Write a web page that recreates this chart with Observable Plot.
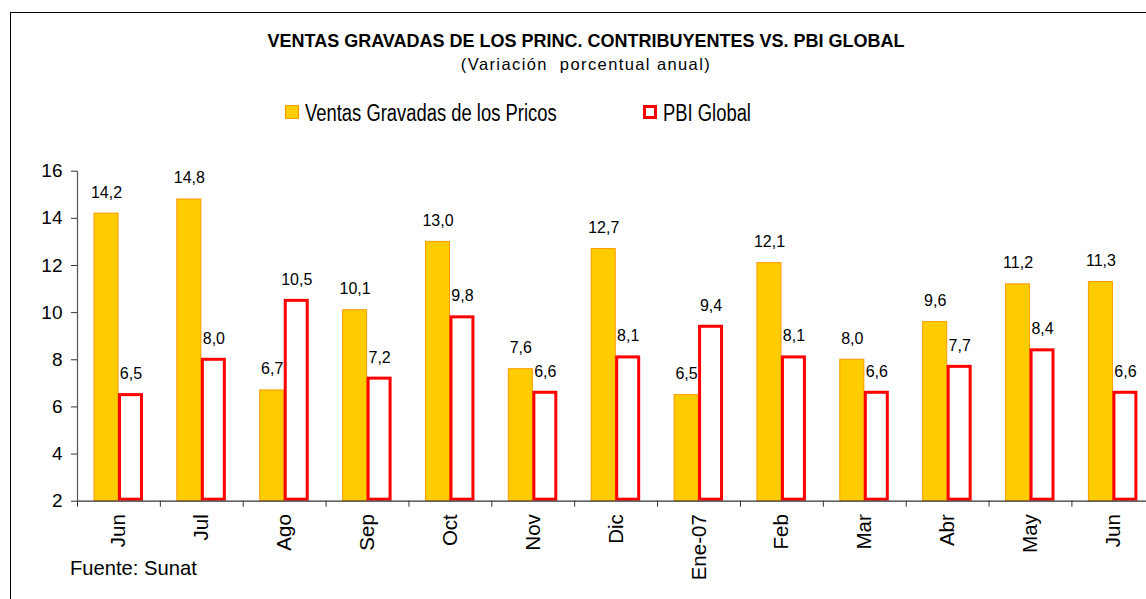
<!DOCTYPE html>
<html>
<head>
<meta charset="utf-8">
<script src="https://cdn.jsdelivr.net/npm/d3@7"></script>
<script src="https://cdn.jsdelivr.net/npm/@observablehq/plot@0.6"></script>
<style>
  html, body { margin: 0; padding: 0; background: #fff; overflow: hidden; width: 1146px; height: 599px; }
  body { position: relative; font-family: "Liberation Sans", Arial, sans-serif; color: #000; }
  #chart { position: absolute; left: 0; top: 0; }
  .txt { position: absolute; white-space: pre; line-height: 1; }
  #frame { position: absolute; left: 9.5px; top: 12px; width: 1300px; height: 800px; border-left: 1.5px solid #000; border-top: 1.5px solid #000; pointer-events: none; }
  .sw { position: absolute; box-sizing: border-box; }
</style>
</head>
<body>
<div id="chart"></div>
<div id="frame"></div>
<div class="txt" id="title" style="left:0; width:1172px; text-align:center; top:32.3px; font-size:18px; font-weight:bold;"></div>
<div class="txt" id="subtitle" style="left:0; width:1172px; text-align:center; top:56px; font-size:16.5px; letter-spacing:1.4px;"></div>
<div id="legend"></div>
<div class="txt" id="source" style="left:70px; top:558px; font-size:20.2px;"></div>
<script>
// ---- data ----
const titleText = "VENTAS GRAVADAS DE LOS PRINC. CONTRIBUYENTES VS. PBI GLOBAL";
const subtitleText = "(Variación  porcentual anual)";
const sourceText = "Fuente: Sunat";
const seriesNames = ["Ventas Gravadas de los Pricos", "PBI Global"];
const months = ["Jun", "Jul", "Ago", "Sep", "Oct", "Nov", "Dic", "Ene-07", "Feb", "Mar", "Abr", "May", "Jun"];
const ventas = [14.2, 14.8, 6.7, 10.1, 13.0, 7.6, 12.7, 6.5, 12.1, 8.0, 9.6, 11.2, 11.3];
const pbi = [6.5, 8.0, 10.5, 7.2, 9.8, 6.6, 8.1, 9.4, 8.1, 6.6, 7.7, 8.4, 6.6];
const yTicks = [2, 4, 6, 8, 10, 12, 14, 16];

// ---- build ----
const data = months.map((m, i) => ({i, month: m, ventas: ventas[i], pbi: pbi[i]}));
const fmt = v => v.toFixed(1).replace(".", ",");
const gold = "#FFCC00", goldStroke = "#FF9900", red = "#FF0000";

document.getElementById("title").textContent = titleText;
document.getElementById("subtitle").textContent = subtitleText;
document.getElementById("source").textContent = sourceText;

// legend
const legend = document.getElementById("legend");
const legendItems = [
  {name: seriesNames[0], x: 285, fill: gold, stroke: goldStroke, sw: 1, size: 14},
  {name: seriesNames[1], x: 643, fill: "#fff", stroke: red, sw: 3, size: 13.5}
];
for (const it of legendItems) {
  const s = document.createElement("div");
  s.className = "sw";
  s.style.cssText = `left:${it.x}px; top:105px; width:${it.size}px; height:${it.size}px; background:${it.fill}; border:${it.sw}px solid ${it.stroke};`;
  legend.appendChild(s);
  const t = document.createElement("div");
  t.className = "txt";
  t.textContent = it.name;
  t.style.cssText = `left:${it.x + 20}px; top:102px; font-size:23px; transform:scaleX(0.8); transform-origin:0 0;`;
  legend.appendChild(t);
}

const plot = Plot.plot({
  width: 1146,
  height: 599,
  marginLeft: 77,
  marginRight: 0,
  marginTop: 170.7,
  marginBottom: 98.3,
  style: {background: "transparent", fontFamily: "'Liberation Sans', Arial, sans-serif", color: "#000", overflow: "visible"},
  x: {domain: [0, 12.9], axis: null},
  y: {domain: [2, 16], axis: null},
  marks: [
    Plot.rectY(data, {x1: d => d.i + 0.205, x2: d => d.i + 0.495, y1: 2, y2: "ventas", fill: gold, stroke: goldStroke, strokeWidth: 1}),
    Plot.rectY(data, {x1: d => d.i + 0.513, x2: d => d.i + 0.778, y1: 2, y2: "pbi", fill: "#fff", stroke: red, strokeWidth: 3, insetBottom: 1.5}),
    Plot.text(data, {x: d => d.i + 0.35, y: "ventas", text: d => fmt(d.ventas), lineAnchor: "bottom", dy: -16, fontSize: 16, fill: "#000"}),
    Plot.text(data, {x: d => d.i + 0.6456, y: "pbi", text: d => fmt(d.pbi), lineAnchor: "bottom", dy: -16, fontSize: 16, fill: "#000"}),
    Plot.ruleY([2], {stroke: "#333", strokeWidth: 1.2}),
    Plot.ruleX([0], {y1: 2, y2: 16, stroke: "#555", strokeWidth: 1.2}),
    Plot.axisY({ticks: yTicks, tickSize: 6, tickPadding: 9, fontSize: 19, label: null, stroke: "#333", tickFormat: d => String(d)}),
    Plot.axisX({ticks: d3.range(0, 14), tickSize: 6, tickFormat: () => "", label: null, stroke: "#333"}),
    Plot.axisX({ticks: months.map((m, i) => i + 0.5), tickSize: 0, tickPadding: 13, tickRotate: -90, fontSize: 20.5, label: null, tickFormat: v => months[Math.floor(v)]})
  ]
});
document.getElementById("chart").appendChild(plot);
</script>
</body>
</html>
